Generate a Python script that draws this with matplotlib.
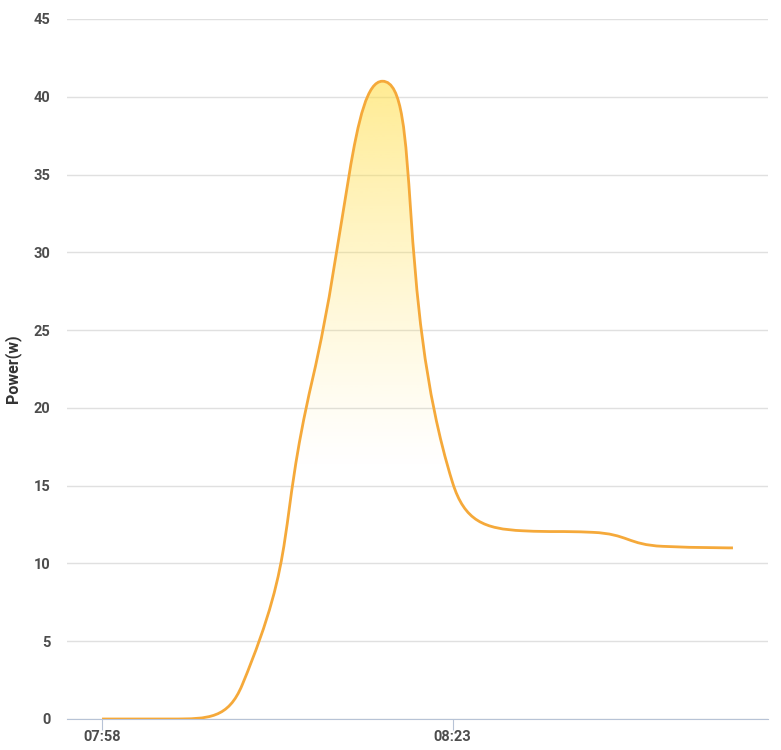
import numpy as np
import matplotlib
matplotlib.use("Agg")
import matplotlib.pyplot as plt
from matplotlib.path import Path
from matplotlib.patches import PathPatch

# data: power readings every 5 minutes
times = ["07:58", "08:03", "08:08", "08:13", "08:18", "08:23", "08:28", "08:33", "08:38", "08:43"]
power = [0, 0, 2.2, 21.8, 41, 15.2, 12.1, 12.0, 11.1, 11.0]
label_every = 5

line_color = "#f5a93a"
grid_color = "#e0e0e0"
axis_color = "#b7c3d6"
text_color = "#4d4d4d"

plt.rcParams['font.family'] = ['Roboto', 'DejaVu Sans']


def smooth_path(px, py, smooth=0.5):
    # echarts-like bezier smoothing, works in display coords
    n = len(px)
    verts = [(px[0], py[0])]
    codes = [Path.MOVETO]
    cpx0, cpy0 = px[0], py[0]
    for i in range(1, n):
        x, y = px[i], py[i]
        prevx, prevy = px[i - 1], py[i - 1]
        if i < n - 1:
            nx, ny = px[i + 1], py[i + 1]
            vx = nx - prevx
            vy = ny - prevy
            d0 = np.hypot(x - prevx, y - prevy)
            d1 = np.hypot(nx - x, ny - y)
            r = d1 / (d1 + d0)
            ncx = x + vx * smooth * r
            ncy = y + vy * smooth * r
            ncx = min(ncx, max(nx, x)); ncx = max(ncx, min(nx, x))
            ncy = min(ncy, max(ny, y)); ncy = max(ncy, min(ny, y))
            vx = ncx - x; vy = ncy - y
            cpx1 = x - vx * d0 / d1
            cpy1 = y - vy * d0 / d1
            cpx1 = min(cpx1, max(prevx, x)); cpx1 = max(cpx1, min(prevx, x))
            cpy1 = min(cpy1, max(prevy, y)); cpy1 = max(cpy1, min(prevy, y))
            vx = x - cpx1; vy = y - cpy1
            ncx = x + vx * d1 / d0
            ncy = y + vy * d1 / d0
        else:
            cpx1, cpy1 = x, y
            ncx, ncy = x, y
        verts += [(cpx0, cpy0), (cpx1, cpy1), (x, y)]
        codes += [Path.CURVE4] * 3
        cpx0, cpy0 = ncx, ncy
    return verts, codes


fig = plt.figure(figsize=(7.81, 7.5), dpi=100)
ax = fig.add_axes([67 / 781, 1 - 719 / 750, 701 / 781, 700 / 750])
xs = np.arange(len(times))
ax.set_xlim(-0.5, len(times) - 0.5)
ax.set_ylim(0, 45)
ax.set_yticks(np.arange(0, 46, 5))
ax.yaxis.grid(True, color=grid_color, linewidth=1)
ax.set_axisbelow(True)
for s in ["top", "right", "left"]:
    ax.spines[s].set_visible(False)
ax.spines["bottom"].set_color(axis_color)
ax.tick_params(axis="y", length=0, pad=12, labelsize=10.5, labelcolor=text_color)
ax.set_xticks(xs[::label_every])
ax.set_xticklabels(times[::label_every])
ax.tick_params(axis="x", length=8, color=axis_color, pad=0, labelsize=10.5, labelcolor=text_color)
for lab in ax.get_xticklabels() + ax.get_yticklabels():
    lab.set_fontweight("bold")
ax.set_ylabel("Power(w)", fontsize=11.5, fontweight="bold", color="#333333")
ax.yaxis.set_label_coords(-46 / 701, 0.5)

# build smooth curve in display space, back to data space
disp = ax.transData.transform(np.column_stack([xs, power]))
verts, codes = smooth_path(disp[:, 0], disp[:, 1])
verts = ax.transData.inverted().transform(np.array(verts))
line_path = Path(verts, codes)
ax.add_patch(PathPatch(line_path, fill=False, edgecolor=line_color, linewidth=2, zorder=3))

# area under curve with vertical gradient
area_verts = list(verts) + [(xs[-1], 0), (xs[0], 0), (xs[0], power[0])]
area_codes = list(codes) + [Path.LINETO, Path.LINETO, Path.CLOSEPOLY]
area = PathPatch(Path(area_verts, area_codes), facecolor="none", edgecolor="none")
ax.add_patch(area)
top = max(power)
yy = np.linspace(top, 0, 300)
alpha = np.clip((yy - 16) / (top - 16), 0, 1) ** 1.2 * 0.58
grad = np.zeros((300, 1, 4))
grad[:, 0, 0] = 1.0
grad[:, 0, 1] = 222 / 255
grad[:, 0, 2] = 70 / 255
grad[:, 0, 3] = alpha
im = ax.imshow(grad, extent=[xs[0], xs[-1], 0, top], aspect="auto", zorder=2, interpolation="bilinear")
im.set_clip_path(area)
ax.set_xlim(-0.5, len(times) - 0.5)
ax.set_ylim(0, 45)

fig.savefig("out.png", dpi=100)
